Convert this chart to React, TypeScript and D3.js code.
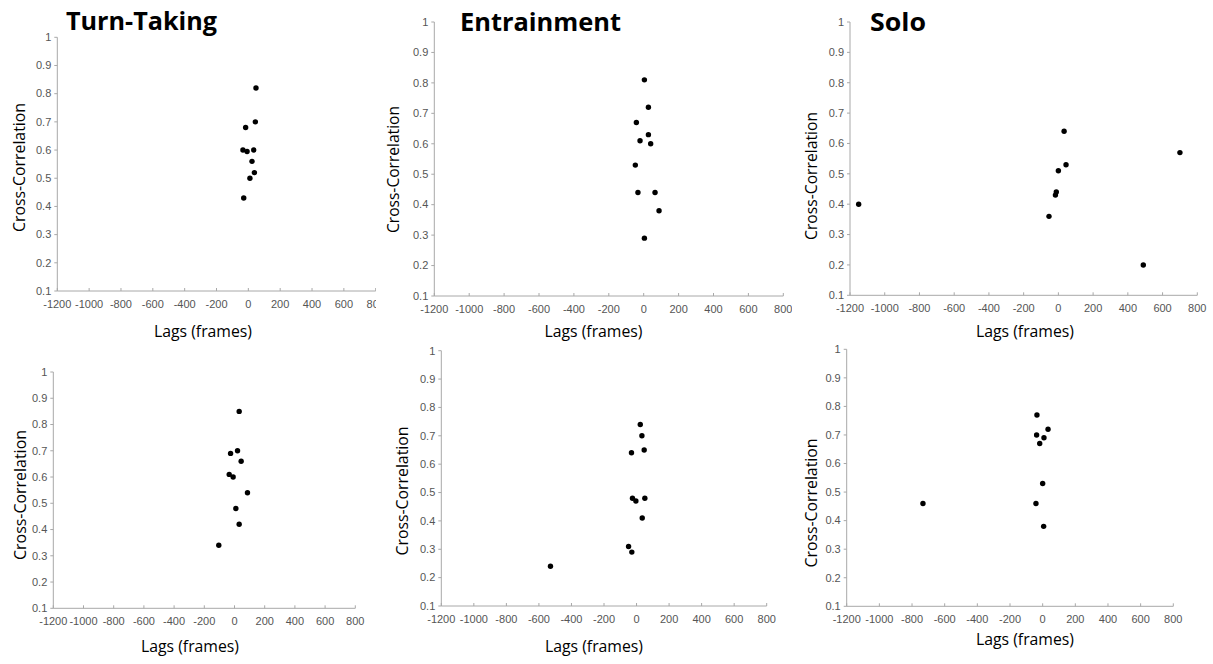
import React from "react";
import * as d3 from "d3";

// ---- Data ----
const turnTakingTopLag = [48, 44, -17, -34, -8, 34, 23, 38, 10, -29];
const turnTakingTopCorr = [0.82, 0.7, 0.68, 0.6, 0.595, 0.6, 0.56, 0.52, 0.5, 0.43];

const entrainmentTopLag = [4, 27, -42, 27, -21, 40, -48, -33, 65, 88, 4];
const entrainmentTopCorr = [0.81, 0.72, 0.67, 0.63, 0.61, 0.6, 0.53, 0.44, 0.44, 0.38, 0.29];

const soloTopLag = [-1150, 33, 700, 44, 0, -12, -17, -54, 489];
const soloTopCorr = [0.4, 0.64, 0.57, 0.53, 0.51, 0.44, 0.43, 0.36, 0.2];

const turnTakingBottomLag = [31, 20, -26, 44, -35, -9, 86, 9, 31, -104];
const turnTakingBottomCorr = [0.85, 0.7, 0.69, 0.66, 0.61, 0.6, 0.54, 0.48, 0.42, 0.34];

const entrainmentBottomLag = [23, 33, 47, -31, -25, -4, 51, 35, -49, -29, -529];
const entrainmentBottomCorr = [0.74, 0.7, 0.65, 0.64, 0.48, 0.47, 0.48, 0.41, 0.31, 0.29, 0.24];

const soloBottomLag = [-35, 33, -37, 8, -18, 0, -41, -733, 6];
const soloBottomCorr = [0.77, 0.72, 0.7, 0.69, 0.67, 0.53, 0.46, 0.46, 0.38];

const xTicks = [-1200, -1000, -800, -600, -400, -200, 0, 200, 400, 600, 800];
const yTicks = [0.1, 0.2, 0.3, 0.4, 0.5, 0.6, 0.7, 0.8, 0.9, 1];
const titles = ["Turn-Taking", "Entrainment", "Solo"];
const yLabel = "Cross-Correlation";
const xLabel = "Lags (frames)";

// ---- Layout ----
type Panel = {
  lag: number[];
  corr: number[];
  left: number; right: number; top: number; bottom: number;
  clipRight: number;
  yLab: [number, number, number]; // baseline x, center y, length
  xLab: [number, number]; // center x, baseline y
  title?: { text: string; x: number; y: number; w: number };
};

const panels: Panel[] = [
  {
    lag: turnTakingTopLag, corr: turnTakingTopCorr,
    left: 57.3, right: 375.7, top: 37.3, bottom: 291, clipRight: 376,
    yLab: [25, 167.5, 129], xLab: [203, 337],
    title: { text: titles[0], x: 66, y: 29.5, w: 151 },
  },
  {
    lag: entrainmentTopLag, corr: entrainmentTopCorr,
    left: 434.3, right: 783.3, top: 22, bottom: 296, clipRight: 792,
    yLab: [399.3, 169.5, 127], xLab: [593.5, 337],
    title: { text: titles[1], x: 460, y: 30.5, w: 161 },
  },
  {
    lag: soloTopLag, corr: soloTopCorr,
    left: 850, right: 1197.3, top: 22, bottom: 295.3, clipRight: 1213,
    yLab: [816.7, 176, 128], xLab: [1025, 337],
    title: { text: titles[2], x: 870, y: 30.5, w: 56 },
  },
  {
    lag: turnTakingBottomLag, corr: turnTakingBottomCorr,
    left: 53.3, right: 355.3, top: 372, bottom: 608.3, clipRight: 1213,
    yLab: [26, 495, 130], xLab: [190, 652],
  },
  {
    lag: entrainmentBottomLag, corr: entrainmentBottomCorr,
    left: 441.3, right: 766.7, top: 350.7, bottom: 606, clipRight: 1213,
    yLab: [408.3, 491, 129], xLab: [594, 652],
  },
  {
    lag: soloBottomLag, corr: soloBottomCorr,
    left: 846.7, right: 1173.3, top: 349.3, bottom: 606.3, clipRight: 1213,
    yLab: [817.3, 503, 129], xLab: [1025, 645],
  },
];

const AXIS = "#a8a8a8";
const TICKTXT = "#555";
const tickFont = "'Liberation Sans', Arial, Helvetica, sans-serif";
const labelFont = "'Open Sans', 'Noto Sans', sans-serif";

function fmtY(v: number) {
  return v === 1 ? "1" : v.toFixed(1);
}

function PanelView({ p, i }: { p: Panel; i: number }) {
  const x = d3.scaleLinear().domain([-1200, 800]).range([p.left, p.right]);
  const y = d3.scaleLinear().domain([0.1, 1]).range([p.bottom, p.top]);
  const clipId = `clip${i}`;
  return (
    <g>
      <defs>
        <clipPath id={clipId}>
          <rect x={0} y={0} width={p.clipRight} height={664} />
        </clipPath>
      </defs>
      <g clipPath={`url(#${clipId})`}>
        {/* axes */}
        <line x1={p.left} x2={p.left} y1={p.top} y2={p.bottom} stroke={AXIS} strokeWidth={1} />
        <line x1={p.left} x2={p.right} y1={p.bottom} y2={p.bottom} stroke={AXIS} strokeWidth={1} />
        {yTicks.map((t) => (
          <g key={"y" + t}>
            <line x1={p.left - 3} x2={p.left} y1={y(t)} y2={y(t)} stroke={AXIS} />
            <text x={p.left - 6} y={y(t) + 3.8} textAnchor="end" fontSize={11} fill={TICKTXT} fontFamily={tickFont}>
              {fmtY(t)}
            </text>
          </g>
        ))}
        {xTicks.map((t) => (
          <g key={"x" + t}>
            <line x1={x(t)} x2={x(t)} y1={p.bottom - 3} y2={p.bottom} stroke={AXIS} />
            <text x={x(t)} y={p.bottom + 16.5} textAnchor="middle" fontSize={11} fill={TICKTXT} fontFamily={tickFont}>
              {t}
            </text>
          </g>
        ))}
        {p.lag.map((l, k) => (
          <circle key={k} cx={x(l)} cy={y(p.corr[k])} r={2.7} fill="#000" />
        ))}
      </g>
      <text
        transform={`translate(${p.yLab[0]},${p.yLab[1]}) rotate(-90)`}
        textAnchor="middle"
        fontSize={16}
        fontFamily={labelFont}
        textLength={p.yLab[2]}
        lengthAdjust="spacingAndGlyphs"
        fill="#000"
      >
        {yLabel}
      </text>
      <text
        x={p.xLab[0]}
        y={p.xLab[1]}
        textAnchor="middle"
        fontSize={16}
        fontFamily={labelFont}
        textLength={98}
        lengthAdjust="spacingAndGlyphs"
        fill="#000"
      >
        {xLabel}
      </text>
      {p.title && (
        <text
          x={p.title.x}
          y={p.title.y}
          fontSize={25}
          fontWeight={700}
          fontFamily={labelFont}
          textLength={p.title.w}
          lengthAdjust="spacingAndGlyphs"
          fill="#000"
        >
          {p.title.text}
        </text>
      )}
    </g>
  );
}

export default function App() {
  return (
    <svg
      width={1213}
      height={664}
      style={{ position: "absolute", left: 0, top: 0, background: "#fff" }}
    >
      <rect x={0} y={0} width={1213} height={664} fill="#fff" />
      {panels.map((p, i) => (
        <PanelView key={i} p={p} i={i} />
      ))}
    </svg>
  );
}
